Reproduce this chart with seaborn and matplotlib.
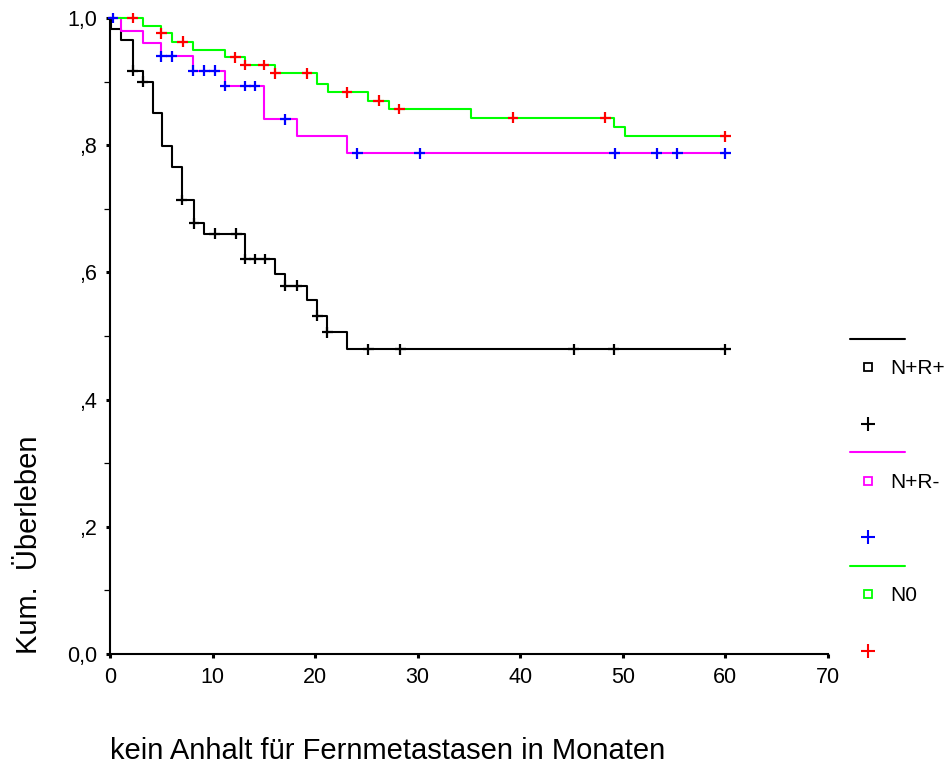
import numpy as np
import pandas as pd
import matplotlib
matplotlib.use("Agg")
import matplotlib.pyplot as plt
import seaborn as sns
from matplotlib.lines import Line2D
from matplotlib.legend_handler import HandlerLine2D

# ---------------- data ----------------
groups = ["N+R+", "N+R-", "N0"]
line_colors = ["#000000", "#FF00FF", "#00FF00"]
censor_colors = ["#000000", "#0000FF", "#FF0000"]

# N+R+ : step times / survival after each step / censored times
t_nrp = [0, 0.1, 1.1, 2.2, 3.2, 4.2, 5.1, 6.0, 7.0, 8.2, 9.2, 13.2, 16.1,
         17.1, 19.2, 20.2, 21.2, 23.1, 60]
s_nrp = [1.0, 0.983, 0.965, 0.917, 0.900, 0.850, 0.798, 0.766, 0.714, 0.677,
         0.661, 0.621, 0.597, 0.579, 0.556, 0.532, 0.506, 0.479, 0.479]
c_nrp = [2.2, 3.2, 7.0, 8.2, 10.2, 12.3, 13.2, 14.1, 15.1, 17.1, 18.2, 20.2,
         21.2, 25.2, 28.3, 45.2, 49.1, 60]

# N+R-
t_nrm = [0, 1.1, 3.2, 5.0, 8.1, 11.2, 15.0, 18.2, 23.1, 60]
s_nrm = [1.0, 0.980, 0.960, 0.940, 0.917, 0.893, 0.841, 0.814, 0.787, 0.787]
c_nrm = [0.3, 5.0, 6.0, 8.1, 9.2, 10.2, 11.2, 13.2, 14.1, 17.1, 24.1, 30.2,
         49.2, 53.3, 55.3, 60]

# N0
t_n0 = [0, 3.2, 5.0, 6.0, 8.1, 11.2, 13.2, 16.1, 20.2, 21.3, 25.2, 27.2,
        35.2, 49.1, 50.2, 60]
s_n0 = [1.0, 0.987, 0.976, 0.963, 0.950, 0.938, 0.926, 0.913, 0.897, 0.883,
        0.870, 0.857, 0.843, 0.828, 0.814, 0.814]
c_n0 = [2.2, 5.0, 7.1, 12.2, 13.2, 15.0, 16.1, 19.2, 23.1, 26.2, 28.2, 39.3,
        48.3, 60]

x_ticks = [0, 10, 20, 30, 40, 50, 60, 70]
y_ticks = [0.0, 0.2, 0.4, 0.6, 0.8, 1.0]
y_tick_labels = ["0,0", ",2", ",4", ",6", ",8", "1,0"]
y_minor = [0.1, 0.3, 0.5, 0.7, 0.9]

x_label = "kein Anhalt für Fernmetastasen in Monaten"
y_label = "Kum.  Überleben"

# ---------------- tables ----------------
curves = [(t_nrp, s_nrp, c_nrp), (t_nrm, s_nrm, c_nrm), (t_n0, s_n0, c_n0)]
rows, crows = [], []
for g, (t, s, c) in zip(groups, curves):
    t_arr, s_arr = np.asarray(t), np.asarray(s)
    for ti, si in zip(t, s):
        rows.append((g, ti, si))
    for tc in c:
        idx = np.searchsorted(t_arr, tc, side="right") - 1
        crows.append((g, tc, s_arr[idx]))
curve_df = pd.DataFrame(rows, columns=["group", "time", "surv"])
cens_df = pd.DataFrame(crows, columns=["group", "time", "surv"])

# ---------------- style ----------------
sns.set_style("ticks")
plt.rcParams["font.family"] = ["Liberation Sans", "DejaVu Sans"]
plt.rcParams.update({"text.color": "black", "axes.labelcolor": "black",
                     "xtick.color": "black", "ytick.color": "black",
                     "axes.edgecolor": "black"})

W, H = 947, 764
fig = plt.figure(figsize=(W / 100, H / 100), dpi=100)
ax = fig.add_axes([110 / W, 1 - 654 / H, 718 / W, 636 / H])

sns.lineplot(data=curve_df, x="time", y="surv", hue="group",
             palette=dict(zip(groups, line_colors)), hue_order=groups,
             estimator=None, sort=False, drawstyle="steps-post",
             linewidth=1.5, legend=False, ax=ax, clip_on=False, zorder=2)
sns.scatterplot(data=cens_df, x="time", y="surv", hue="group",
                palette=dict(zip(groups, censor_colors)), hue_order=groups,
                marker="+", s=60, linewidth=1.6, legend=False, ax=ax,
                clip_on=False, zorder=3)

ax.set_xlim(0, 70)
ax.set_ylim(0, 1.0)
ax.set_xticks(x_ticks)
ax.set_xticklabels([str(v) for v in x_ticks])
ax.set_yticks(y_ticks)
ax.set_yticklabels(y_tick_labels)
ax.set_yticks(y_minor, minor=True)
ax.tick_params(axis="both", which="major", direction="out", length=3,
               width=2.2, labelsize=15.5, pad=6.5, color="black",
               labelcolor="black")
ax.tick_params(axis="y", which="minor", direction="out", length=4.5,
               width=0.9, color="black")
for side in ["top", "right"]:
    ax.spines[side].set_visible(False)
for side in ["left", "bottom"]:
    ax.spines[side].set_linewidth(1.5)
    ax.spines[side].set_color("black")

ax.set_xlabel(x_label, fontsize=21, loc="left", color="black")
ax.xaxis.set_label_coords(0.0, -0.1305)
ax.set_ylabel(y_label, fontsize=21, loc="bottom", color="black")
ax.yaxis.set_label_coords(-0.0933, 0.0)


class LeftMarker(HandlerLine2D):
    """Single marker placed at a third of the handle width."""
    def get_xdata(self, legend, xdescent, ydescent, width, height, fontsize):
        xd = [-xdescent, -xdescent + 0.66 * width]
        return xd, [-xdescent + 0.33 * width]


handles, labels, hmap = [], [], {}
for g, lc, cc in zip(groups, line_colors, censor_colors):
    h_line = Line2D([], [], color=lc, lw=1.5)
    h_sq = Line2D([], [], ls="none", marker="s", mfc="none", mec=lc, ms=5.5,
                  mew=1.3)
    h_blank = Line2D([], [], ls="none", marker="", alpha=0)
    h_plus = Line2D([], [], ls="none", marker="+", color=cc, ms=9.5, mew=1.5)
    handles += [h_line, h_sq, h_blank, h_plus]
    labels += ["", g, "", ""]
    hmap[h_sq] = LeftMarker(numpoints=1)
    hmap[h_plus] = LeftMarker(numpoints=1)

leg = ax.legend(handles, labels, handler_map=hmap, loc="upper left",
                bbox_to_anchor=(850 / W, 1 - 331 / H),
                bbox_transform=fig.transFigure, frameon=False, fontsize=15,
                handlelength=2.64, handletextpad=-0.72, labelspacing=0.45,
                borderpad=0, borderaxespad=0)
for txt in leg.get_texts():
    txt.set_color("black")

fig.savefig("out.png", dpi=100)
